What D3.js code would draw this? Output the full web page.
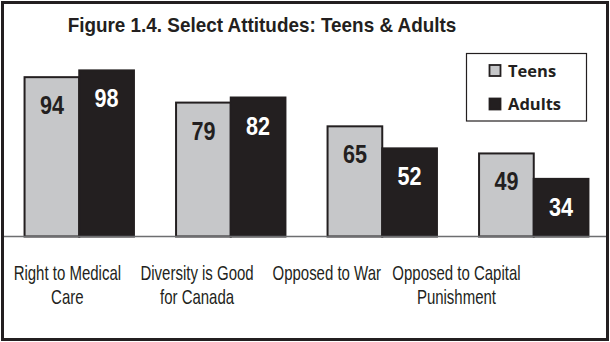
<!DOCTYPE html>
<html><head><meta charset="utf-8">
<script src="https://cdn.jsdelivr.net/npm/d3@7/dist/d3.min.js"></script>
<style>
html,body{margin:0;padding:0;background:#fff;}
svg{display:block;}
</style></head>
<body>
<svg id="chart" width="610" height="342"></svg>
<script>
const title = "Figure 1.4. Select Attitudes: Teens & Adults";
const categories = ["Right to Medical Care", "Diversity is Good for Canada", "Opposed to War", "Opposed to Capital Punishment"];
const categoryLines = [["Right to Medical", "Care"], ["Diversity is Good", "for Canada"], ["Opposed to War"], ["Opposed to Capital", "Punishment"]];
const seriesNames = ["Teens", "Adults"];
const teens = [94, 79, 65, 49];
const adults = [98, 82, 52, 34];

const W = 610, H = 342;
const svg = d3.select("#chart");
const SANS = "'Liberation Sans', Arial, sans-serif";

// outer frame
svg.append("rect").attr("x", 2.5).attr("y", 2.5).attr("width", 605).attr("height", 337)
  .attr("fill", "#fff").attr("stroke", "#231f20").attr("stroke-width", 3);

const x0 = d3.scaleBand().domain(categories).range([3.5, 609.5]).paddingInner(0.278).paddingOuter(0.139);
const x1 = d3.scaleBand().domain(seriesNames).range([0, x0.bandwidth()]);
const xLab = d3.scaleBand().domain(categories).range([2.5, 521.3]);
const y = d3.scaleLinear().domain([0, 100]).range([236.5, 67]);

const colors = {Teens: "#c6c7c9", Adults: "#231f20"};
const data = categories.map((c, i) => ({cat: c, vals: [{s: "Teens", v: teens[i]}, {s: "Adults", v: adults[i]}]}));

const g = svg.append("g");
const groups = g.selectAll("g.grp").data(data).join("g").attr("class", "grp")
  .attr("transform", d => `translate(${x0(d.cat)},0)`);
groups.selectAll("rect").data(d => d.vals).join("rect")
  .attr("x", d => x1(d.s)).attr("width", x1.bandwidth())
  .attr("y", d => y(d.v)).attr("height", d => y(0) - y(d.v))
  .attr("fill", d => colors[d.s]).attr("stroke", "#231f20").attr("stroke-width", 2);
groups.selectAll("text").data(d => d.vals).join("text")
  .attr("transform", d => `translate(${x1(d.s) + x1.bandwidth() / 2},${y(d.v) + 37}) scale(0.83,1)`)
  .attr("text-anchor", "middle")
  .attr("font-family", SANS).attr("font-weight", "bold").attr("font-size", 26)
  .attr("fill", d => d.s === "Teens" ? "#231f20" : "#ffffff")
  .text(d => d.v);

// baseline
svg.append("line").attr("x1", 4).attr("x2", 606).attr("y1", y(0)).attr("y2", y(0))
  .attr("stroke", "#6d6e70").attr("stroke-width", 1.5);

// category labels
const labs = svg.selectAll("text.cat").data(categories).join("text").attr("class", "cat")
  .attr("transform", d => `translate(${xLab(d) + xLab.bandwidth() / 2},279.5) scale(0.75,1)`)
  .attr("text-anchor", "middle").attr("font-family", SANS).attr("font-size", 20).attr("fill", "#231f20");
labs.each(function(d, i) {
  const t = d3.select(this);
  categoryLines[i].forEach((ln, j) => {
    t.append("tspan").attr("x", 0).attr("dy", j === 0 ? 0 : 24.7).text(ln);
  });
});

// title
svg.append("text").attr("transform", "translate(262,31.7) scale(0.9,1)").attr("text-anchor", "middle")
  .attr("font-family", SANS).attr("font-weight", "bold").attr("font-size", 21).attr("fill", "#231f20")
  .text(title);

// legend
const lg = svg.append("g");
lg.append("rect").attr("x", 466.5).attr("y", 53.5).attr("width", 120).attr("height", 67.5)
  .attr("fill", "#fff").attr("stroke", "#231f20").attr("stroke-width", 1.2);
const li = lg.selectAll("g.li").data(seriesNames).join("g").attr("class", "li")
  .attr("transform", (d, i) => `translate(489.5,${65 + i * 33.5})`);
li.append("rect").attr("width", 11).attr("height", 11)
  .attr("fill", d => colors[d]).attr("stroke", "#231f20").attr("stroke-width", 1.8);
li.append("text").attr("x", 18.5).attr("y", 11.5)
  .attr("font-family", "'Open Sans', Lato, sans-serif").attr("font-weight", "bold").attr("font-size", 16.5)
  .attr("fill", "#231f20").text(d => d);
</script>
</body></html>
